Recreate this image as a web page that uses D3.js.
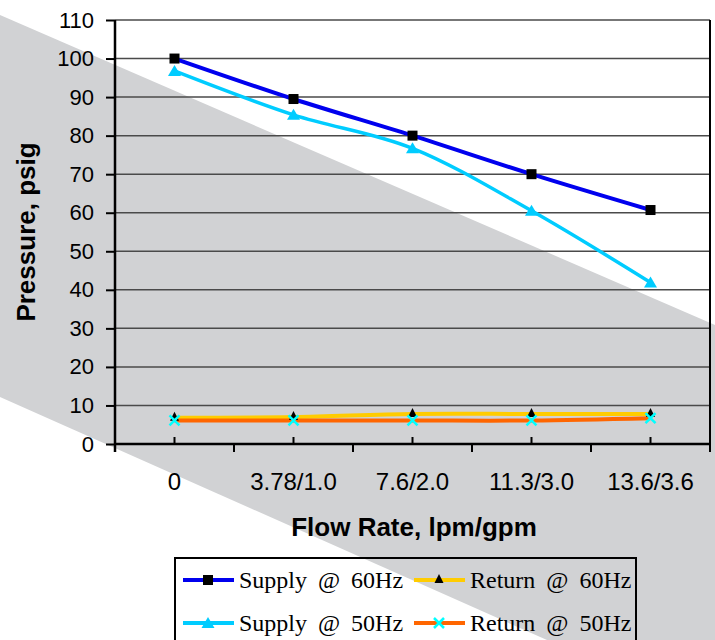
<!DOCTYPE html>
<html>
<head>
<meta charset="utf-8">
<script src="https://cdn.jsdelivr.net/npm/d3@7"></script>
<style>
  body { margin: 0; background: #fff; }
  .tick-label { font-family: "Liberation Sans", Arial, sans-serif; font-size: 22px; fill: #000; }
  .x-label { font-size: 24px; }
  .axis-title { font-family: "Liberation Sans", Arial, sans-serif; font-size: 26px; font-weight: bold; fill: #000; }
  .legend-text { font-family: "Liberation Serif", "Times New Roman", serif; font-size: 24px; fill: #000; word-spacing: 5px; }
</style>
</head>
<body>
<script>
// Chart data
var categories = ["0", "3.78/1.0", "7.6/2.0", "11.3/3.0", "13.6/3.6"];
var supply60 = [100, 89.5, 80, 70, 60.7];
var supply50 = [96.8, 85.4, 76.7, 60.5, 41.9];
var return60 = [6.8, 7.0, 7.8, 7.8, 7.8];
var return50 = [6.1, 6.1, 6.1, 6.1, 6.7];
var yTicks = [0, 10, 20, 30, 40, 50, 60, 70, 80, 90, 100, 110];

var W = 715, H = 640;
var plot = {left: 115, right: 710, top: 20, bottom: 444};

var svg = d3.select("body").append("svg")
    .attr("width", W)
    .attr("height", H);

// diagonal gray band behind everything
svg.append("polygon")
    .attr("points", [[0, 15], [W, 325], [W, H], [547, H], [0, 397]].map(function(p) { return p.join(","); }).join(" "))
    .attr("fill", "#d1d2d4");

// scales
var x = d3.scalePoint().domain(categories).range([plot.left, plot.right]).padding(0.5);
var xb = d3.scaleBand().domain(categories).range([plot.left, plot.right]);
var y = d3.scaleLinear().domain([0, 110]).range([plot.bottom, plot.top]);

// gridlines
svg.append("g")
    .selectAll("line")
    .data(yTicks.filter(function(d) { return d > 0; }))
    .join("line")
      .attr("x1", plot.left).attr("x2", plot.right)
      .attr("y1", function(d) { return y(d); }).attr("y2", function(d) { return y(d); })
      .attr("stroke", "#4a4a4a").attr("stroke-width", 1.5);

// right border
svg.append("line")
    .attr("x1", plot.right).attr("x2", plot.right)
    .attr("y1", plot.top).attr("y2", plot.bottom + 8)
    .attr("stroke", "#000").attr("stroke-width", 2);

// Y axis
var yAxis = svg.append("g")
    .attr("transform", "translate(" + plot.left + ",0)")
    .call(d3.axisLeft(y).tickValues(yTicks).tickSize(9).tickPadding(12));
yAxis.select(".domain").attr("stroke", "#000").attr("stroke-width", 2.5)
    .attr("d", "M0," + plot.top + "V" + (plot.bottom + 8));
yAxis.selectAll(".tick line").attr("stroke", "#000").attr("stroke-width", 2);
yAxis.selectAll(".tick text").attr("class", "tick-label").attr("font-size", null).attr("font-family", null);

// X axis: band edge ticks below, category ticks above
var xAxis = svg.append("g")
    .attr("transform", "translate(0," + plot.bottom + ")");
xAxis.append("line")
    .attr("x1", plot.left).attr("x2", plot.right)
    .attr("stroke", "#000").attr("stroke-width", 2.5);
xAxis.selectAll(".edge")
    .data(categories.slice(1))
    .join("line")
      .attr("class", "edge")
      .attr("x1", function(d) { return xb(d); }).attr("x2", function(d) { return xb(d); })
      .attr("y1", 0).attr("y2", 8)
      .attr("stroke", "#000").attr("stroke-width", 2);
xAxis.selectAll(".cat")
    .data(categories)
    .join("line")
      .attr("class", "cat")
      .attr("x1", function(d) { return x(d); }).attr("x2", function(d) { return x(d); })
      .attr("y1", 0).attr("y2", -7)
      .attr("stroke", "#000").attr("stroke-width", 2);
xAxis.selectAll("text")
    .data(categories)
    .join("text")
      .attr("class", "tick-label x-label")
      .attr("x", function(d) { return x(d); })
      .attr("y", 46)
      .attr("text-anchor", "middle")
      .text(function(d) { return d; });

// axis titles
svg.append("text")
    .attr("class", "axis-title")
    .attr("x", 414)
    .attr("y", 536)
    .attr("text-anchor", "middle")
    .text("Flow Rate, lpm/gpm");
svg.append("text")
    .attr("class", "axis-title")
    .attr("transform", "translate(35,232) rotate(-90)")
    .attr("text-anchor", "middle")
    .text("Pressure, psig");

// series
var series = [
  {name: "Supply @ 60Hz", values: supply60, color: "#0000ee", width: 4, marker: "square", mcolor: "#000"},
  {name: "Return @ 60Hz", values: return60, color: "#ffcc00", width: 4, marker: "triangle-small", mcolor: "#000"},
  {name: "Supply @ 50Hz", values: supply50, color: "#00ccff", width: 3.5, marker: "triangle", mcolor: "#00ccff"},
  {name: "Return @ 50Hz", values: return50, color: "#ff6600", width: 4, marker: "x", mcolor: "#00ffff"}
];

var line = d3.line()
    .x(function(d, i) { return x(categories[i]); })
    .y(function(d) { return y(d); })
    .curve(d3.curveCatmullRom.alpha(0));

series.forEach(function(s) {
  svg.append("path")
      .attr("d", line(s.values))
      .attr("fill", "none")
      .attr("stroke", s.color)
      .attr("stroke-width", s.width);
});

function drawMarker(g, s, cx, cy) {
  if (s.marker === "square") {
    g.append("rect").attr("x", cx - 5).attr("y", cy - 5).attr("width", 10).attr("height", 10).attr("fill", s.mcolor);
  } else if (s.marker === "triangle") {
    g.append("path").attr("d", "M" + cx + "," + (cy - 6) + "L" + (cx + 6.5) + "," + (cy + 5) + "L" + (cx - 6.5) + "," + (cy + 5) + "Z").attr("fill", s.mcolor);
  } else if (s.marker === "triangle-small") {
    g.append("path").attr("d", "M" + cx + "," + (cy - 6) + "L" + (cx + 4.5) + "," + (cy + 3) + "L" + (cx - 4.5) + "," + (cy + 3) + "Z").attr("fill", s.mcolor);
  } else if (s.marker === "x") {
    g.append("path").attr("d", "M" + (cx - 5) + "," + (cy - 5) + "L" + (cx + 5) + "," + (cy + 5) + "M" + (cx + 5) + "," + (cy - 5) + "L" + (cx - 5) + "," + (cy + 5))
      .attr("stroke", s.mcolor).attr("stroke-width", 2.5);
  }
}

series.forEach(function(s) {
  var g = svg.append("g");
  s.values.forEach(function(v, i) { drawMarker(g, s, x(categories[i]), y(v)); });
});

// legend
var legend = svg.append("g");
legend.append("rect")
    .attr("x", 175).attr("y", 558)
    .attr("width", 461).attr("height", 100)
    .attr("fill", "none").attr("stroke", "#000").attr("stroke-width", 2);

var legendPos = [
  {s: series[0], lx: 183, ty: 580},
  {s: series[1], lx: 414, ty: 580},
  {s: series[2], lx: 183, ty: 623},
  {s: series[3], lx: 414, ty: 623}
];
legendPos.forEach(function(p) {
  legend.append("line")
      .attr("x1", p.lx).attr("x2", p.lx + 51)
      .attr("y1", p.ty).attr("y2", p.ty)
      .attr("stroke", p.s.color).attr("stroke-width", 4);
  drawMarker(legend, p.s, p.lx + 25, p.ty);
  legend.append("text")
      .attr("class", "legend-text")
      .attr("x", p.lx + 56)
      .attr("y", p.ty + 8)
      .text(p.s.name);
});
</script>
</body>
</html>
